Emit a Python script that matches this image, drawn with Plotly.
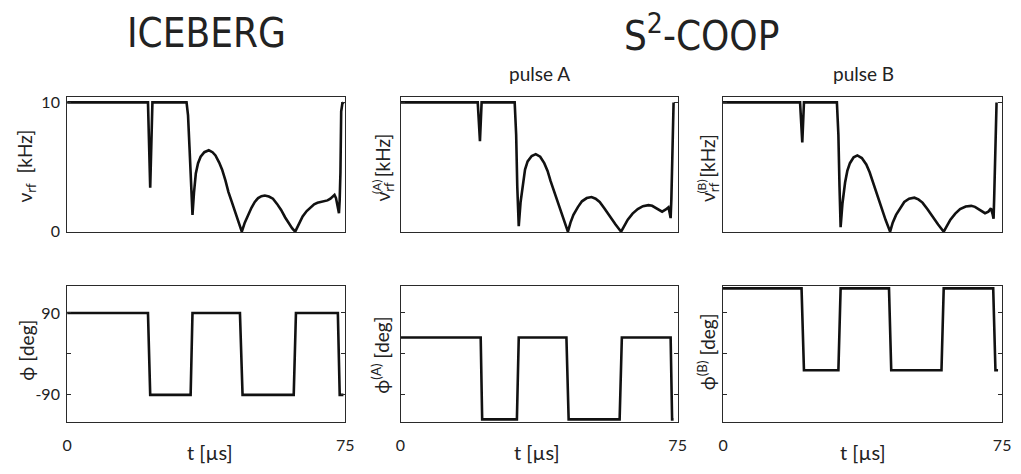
import plotly.graph_objects as go

# ---- data -------------------------------------------------------------
# RF amplitude, ICEBERG (t in µs, nu_rf in kHz)
t_ice = [0, 21.8, 22.4, 23.0, 32.2, 32.6, 33.0, 33.4, 33.8, 34.2, 34.7, 35.3, 36.0, 37.0,
         38.2, 39.2, 40.0, 41.0, 41.8, 42.7, 43.5, 44.4, 45.3, 46.2, 47.1, 47.9, 48.8,
         49.7, 50.6, 51.5, 52.4, 53.3, 54.4, 55.5, 56.6, 57.7, 58.8, 59.9, 60.7, 61.5,
         62.5, 63.5, 64.6, 65.7, 66.6, 67.5, 68.4, 69.4, 70.2, 71.0, 71.6, 72.1, 72.5,
         72.8, 73.1, 73.3, 73.5, 73.7, 73.9, 74.2, 74.5]
v_ice = [10, 10, 3.4, 10, 10, 9.0, 6.5, 3.5, 1.3, 3.0, 4.5, 5.3, 5.8, 6.15,
         6.3, 6.15, 5.9, 5.35, 4.8, 3.95, 3.06, 2.3, 1.5, 0.75, 0.0, 0.7, 1.3,
         1.85, 2.3, 2.6, 2.75, 2.8, 2.72, 2.55, 2.15, 1.68, 1.1, 0.55, 0.25, 0.0,
         0.6, 1.18, 1.6, 1.93, 2.12, 2.23, 2.3, 2.32, 2.42, 2.55, 2.75, 2.85, 2.6,
         2.2, 1.6, 1.43, 2.5, 4.6, 9.3, 9.9, 10]

# RF amplitude, S2-COOP pulse A
t_a = [0, 20.9, 21.5, 21.95, 30.9, 31.3, 31.6, 32.0, 32.5, 33.1, 33.7, 34.4, 35.5, 36.6,
       37.8, 38.9, 39.8, 40.6, 41.8, 42.9, 44.1, 45.3, 46.0, 46.8, 48.0, 49.1, 50.4,
       51.7, 52.8, 53.9, 55.2, 56.6, 58.2, 59.7, 60.6, 61.5, 62.8, 64.2, 65.6, 67.1,
       68.1, 69.1, 70.0, 70.8, 71.7, 72.5, 72.8, 73.1, 73.3, 73.5, 73.9]
v_a = [10, 10, 7.0, 10, 10, 7.5, 3.5, 0.43, 2.3, 3.8, 4.8, 5.44, 5.85, 6.0,
       5.8, 5.3, 4.7, 3.93, 2.9, 1.93, 0.95, 0.0, 0.7, 1.3, 1.9, 2.35, 2.6,
       2.68, 2.55, 2.3, 1.8, 1.18, 0.55, 0.0, 0.5, 0.93, 1.4, 1.75, 1.97, 2.05,
       2.0, 1.85, 1.7, 1.55, 1.7, 1.88, 1.5, 1.05, 2.5, 4.6, 10]

# RF amplitude, S2-COOP pulse B
t_b = [0, 20.7, 21.3, 21.75, 30.6, 31.0, 31.3, 31.6, 32.1, 32.8, 33.4, 34.1, 35.1, 36.1,
       37.3, 38.5, 39.4, 40.3, 41.4, 42.5, 43.7, 44.9, 45.6, 46.5, 47.6, 48.7, 50.0,
       51.4, 52.5, 53.6, 54.9, 56.2, 57.8, 59.3, 60.2, 61.1, 62.4, 63.7, 65.2, 66.7,
       67.7, 68.6, 69.5, 70.4, 71.3, 72.0, 72.4, 72.7, 72.85, 73.0, 73.5]
v_b = [10, 10, 6.9, 10, 10, 7.5, 3.5, 0.35, 2.2, 3.8, 4.7, 5.3, 5.75, 5.9,
       5.7, 5.2, 4.6, 3.8, 2.8, 1.8, 0.9, 0.0, 0.7, 1.3, 1.85, 2.3, 2.55,
       2.63, 2.5, 2.25, 1.75, 1.18, 0.55, 0.0, 0.5, 0.93, 1.4, 1.75, 1.95, 2.0,
       1.92, 1.75, 1.6, 1.43, 1.55, 1.8, 1.4, 1.0, 2.5, 4.6, 10]

# Phases (deg)
tp_ice = [0, 21.8, 22.4, 33.3, 33.8, 46.6, 47.3, 61.1, 61.7, 73.0, 73.5, 74.5]
ph_ice = [90, 90, -90, -90, 90, 90, -90, -90, 90, 90, -90, -90]
tp_a = [0, 21.7, 22.1, 31.5, 32.0, 44.9, 45.5, 59.3, 59.9, 73.1, 73.5, 73.9]
ph_a = [36, 36, -144, -144, 36, 36, -144, -144, 36, 36, -144, -144]
tp_b = [0, 21.1, 21.75, 31.0, 31.6, 44.6, 45.2, 58.7, 59.3, 72.6, 73.2, 73.9]
ph_b = [144, 144, -36, -36, 144, 144, -36, -36, 144, 144, -36, -36]

# ---- figure -----------------------------------------------------------
W, H = 1021, 474
FONT = "Lato, Open Sans, sans-serif"
LINE = dict(color="#111111", width=2.6)
AX = "#2a2a2a"

cols = [(63, 345), (401, 682), (728, 1011)]
rows = [(95, 234), (289, 429)]


def xd(px):
    return [px[0] / W, px[1] / W]


def yd(py):
    return [1 - py[1] / H, 1 - py[0] / H]


fig = go.Figure()
series = [
    (t_ice, v_ice), (t_a, v_a), (t_b, v_b),
    (tp_ice, ph_ice), (tp_a, ph_a), (tp_b, ph_b),
]
for i, (tx, ty) in enumerate(series):
    n = "" if i == 0 else str(i + 1)
    fig.add_trace(go.Scatter(x=tx, y=ty, mode="lines", line=LINE,
                             xaxis="x" + n, yaxis="y" + n, showlegend=False,
                             hoverinfo="skip"))

common = dict(showline=True, linecolor=AX, linewidth=1, mirror="allticks",
              ticks="inside", ticklen=4, tickcolor=AX, showgrid=False,
              zeroline=False, tickfont=dict(family=FONT, size=16, color="#222"))

layout = dict(width=W, height=H, margin=dict(l=0, r=0, t=0, b=0),
              paper_bgcolor="white", plot_bgcolor="white", showlegend=False)

for i in range(6):
    r, c = divmod(i, 3)
    n = "" if i == 0 else str(i + 1)
    xa = dict(common, domain=xd(cols[c]), range=[0, 75], anchor="y" + n,
              tickvals=[0, 75], ticklabelstandoff=9)
    if r == 0:
        xa["showticklabels"] = False
        ya = dict(common, domain=yd(rows[r]), range=[-0.03, 10.45],
                  anchor="x" + n, tickvals=[0, 10])
    else:
        xa["ticktext"] = ["0", "75"]
        ya = dict(common, domain=yd(rows[r]), range=[-150, 150],
                  anchor="x" + n, tickvals=[-90, 0, 90],
                  ticktext=["-90", "", "90"])
    ya["ticklabelstandoff"] = 3
    if c != 0:
        ya["showticklabels"] = False
    layout["xaxis" + n] = xa
    layout["yaxis" + n] = ya

fig.update_layout(**layout)


def txt(x, y, s, size, angle=0, family=FONT):
    fig.add_annotation(x=x / W, y=1 - y / H, xref="paper", yref="paper",
                       text=s, showarrow=False, textangle=angle,
                       font=dict(family=family, size=size, color="#222"),
                       xanchor="center", yanchor="middle")


TITLE_FONT = "Liberation Sans Narrow, DejaVu Sans Condensed, Lato, sans-serif"
txt(204, 30, "ICEBERG", 40, family=TITLE_FONT)
txt(706, 30, "S<sup>2</sup>-COOP", 40, family=TITLE_FONT)
txt(542, 71, "pulse A", 19)
txt(870, 71, "pulse B", 19)

# y-axis titles
txt(21, 166, "ν<sub>rf</sub>  [kHz]", 19, -90)
txt(384, 168, "ν<sub>rf</sub> [kHz]", 19, -90)
txt(376, 187, "(A)", 12, -90)
txt(714, 168, "ν<sub>rf</sub> [kHz]", 19, -90)
txt(706, 187, "(B)", 12, -90)
txt(21, 355, "ϕ [deg]", 19, -90)
txt(381, 360, "ϕ<sup>(A)</sup> [deg]", 19, -90)
txt(712, 357, "ϕ<sup>(B)</sup> [deg]", 19, -90)

# x-axis titles
for cx in (208, 539, 870):
    txt(cx, 460, "t [µs]", 20)

fig.write_html("out.html")
